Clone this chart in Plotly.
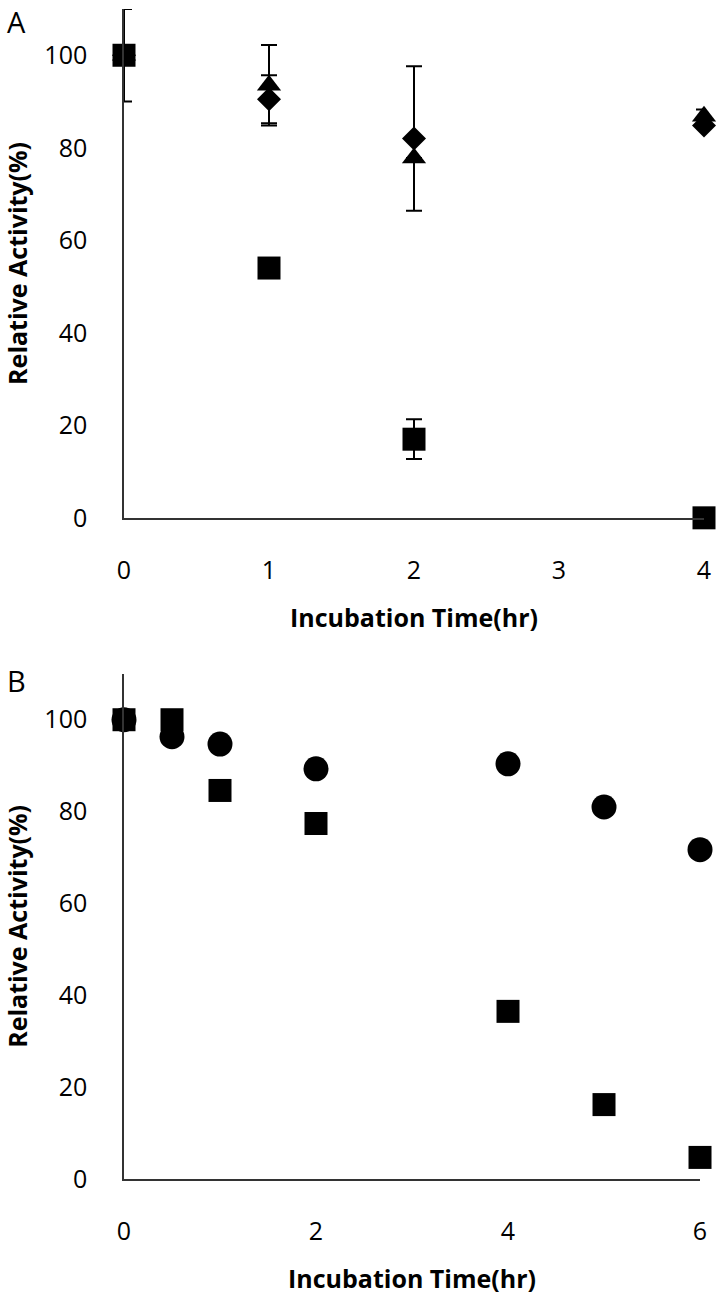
import plotly.graph_objects as go

# ---------------- Data ----------------
# Panel A
time_a = [0, 1, 2, 4]
square_a = [100, 54, 17, 0]
square_a_err = [10, 0, 4.3, 0]
diamond_a = [100, 90.5, 82, 84.8]
diamond_a_err = [0, 5.2, 15.6, 0]
triangle_a = [100, 93.5, 77.8, 86.8]
triangle_a_err = [0, 8.7, 0, 1.5]

# Panel B
time_b = [0, 0.5, 1, 2, 4, 5, 6]
circle_b = [100, 96.3, 94.7, 89.3, 90.4, 81.0, 71.7]
square_b = [100, 100, 84.6, 77.4, 36.5, 16.2, 4.7]

y_ticks = [0, 20, 40, 60, 80, 100]
x_ticks_a = [0, 1, 2, 3, 4]
x_ticks_b = [0, 2, 4, 6]

FONT = "Open Sans"
BLACK = "#000000"

fig = go.Figure()


def add_markers(x, y, symbol, size, xa, ya):
    fig.add_trace(go.Scatter(
        x=x, y=y, mode="markers", xaxis=xa, yaxis=ya,
        marker=dict(symbol=symbol, size=size, color=BLACK, line=dict(width=0)),
        cliponaxis=False, showlegend=False, hoverinfo="x+y"))


def add_errors(x, y, err, xa, ya):
    fig.add_trace(go.Scatter(
        x=x, y=y, mode="markers", xaxis=xa, yaxis=ya,
        marker=dict(size=1, opacity=0),
        error_y=dict(type="data", array=err, symmetric=True,
                     color=BLACK, thickness=2, width=8),
        cliponaxis=True, showlegend=False, hoverinfo="skip"))


# Panel A
add_errors(time_a, square_a, square_a_err, "x", "y")
add_errors(time_a, diamond_a, diamond_a_err, "x", "y")
add_errors(time_a, triangle_a, triangle_a_err, "x", "y")
add_markers(time_a, triangle_a, "triangle-up", 21, "x", "y")
add_markers(time_a, diamond_a, "diamond", 18.5, "x", "y")
add_markers(time_a, square_a, "square", 23, "x", "y")

# Panel B
add_markers(time_b, circle_b, "circle", 25, "x2", "y2")
add_markers(time_b, square_b, "square", 23, "x2", "y2")

axis_common = dict(
    showline=True, linecolor="#333333", linewidth=1.5, mirror=False,
    showgrid=False, zeroline=False, ticks="",
    tickfont=dict(family=FONT, size=25, color=BLACK),
)
title_font = dict(family=FONT, size=25, color=BLACK, weight="bold")

fig.update_layout(
    width=720, height=1298,
    margin=dict(l=124, r=14, t=9, b=107),
    paper_bgcolor="white", plot_bgcolor="white",
    font=dict(family=FONT, color=BLACK),
    xaxis=dict(axis_common, domain=[0, 1], range=[0, 4], tickvals=x_ticks_a,
               anchor="y", ticklabelstandoff=29,
               title=dict(text="Incubation Time(hr)", font=title_font, standoff=25)),
    yaxis=dict(axis_common, domain=[0.5651, 1.0], range=[0, 110], tickvals=y_ticks,
               anchor="x", ticklabelstandoff=30,
               title=dict(text="Relative Activity(%)", font=title_font, standoff=10)),
    xaxis2=dict(axis_common, domain=[0, 578 / 582], range=[0, 6], tickvals=x_ticks_b,
                anchor="y2", ticklabelstandoff=29,
                title=dict(text="Incubation Time(hr)", font=title_font, standoff=25)),
    yaxis2=dict(axis_common, domain=[0, 0.4318], range=[0, 110], tickvals=y_ticks,
                anchor="x2", ticklabelstandoff=30,
                title=dict(text="Relative Activity(%)", font=title_font, standoff=10)),
    annotations=[
        dict(text="A", xref="paper", yref="paper", x=-0.2045, y=1.0076,
             xanchor="left", yanchor="top", showarrow=False,
             font=dict(family=FONT, size=29, color=BLACK)),
        dict(text="B", xref="paper", yref="paper", x=-0.2045, y=0.4264,
             xanchor="left", yanchor="middle", showarrow=False,
             font=dict(family=FONT, size=29, color=BLACK)),
    ],
)

fig.write_html(
    "out.html",
    config={"displayModeBar": False},
    post_script=["document.documentElement.style.overflow='hidden';"
                 "document.body.style.margin='0';document.body.style.overflow='hidden';"],
)
